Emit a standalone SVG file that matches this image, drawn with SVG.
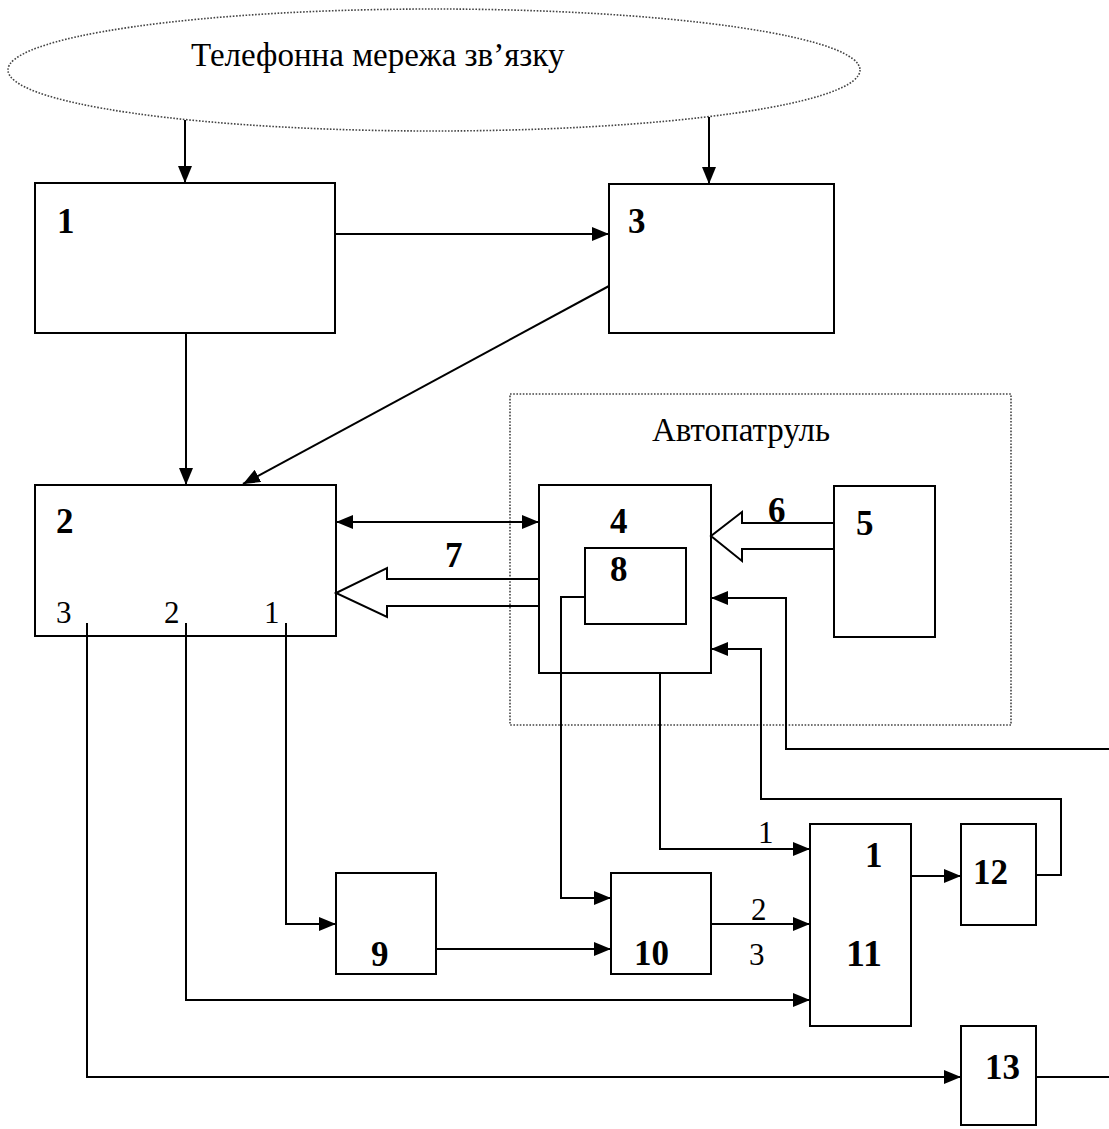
<svg xmlns="http://www.w3.org/2000/svg" width="1109" height="1129" viewBox="0 0 1109 1129">
<style>
.box{fill:none;stroke:#000;stroke-width:2}
.dot{fill:none;stroke:#444;stroke-width:1.6;stroke-dasharray:1.6 1.6}
.ln{fill:none;stroke:#000;stroke-width:2}
.arr{marker-end:url(#ah)}
.b{font-family:"Liberation Serif",serif;font-weight:bold;font-size:35px;fill:#000}
.r{font-family:"Liberation Serif",serif;font-size:31px;fill:#000}
.t{font-family:"Liberation Serif",serif;font-size:33px;fill:#000}
</style>
<defs>
<marker id="ah" markerUnits="userSpaceOnUse" markerWidth="17" markerHeight="14" refX="17" refY="7" orient="auto-start-reverse">
<path d="M0,0 L17,7 L0,14 Z" fill="#000"/>
</marker>
</defs>
<rect width="1109" height="1129" fill="#fff"/>

<g id="network">
<ellipse class="dot" cx="434" cy="70" rx="426" ry="61"/>
<text class="t" x="191" y="66">Телефонна мережа зв’язку</text>
</g>

<g id="autopatrol">
<rect class="dot" x="510" y="394" width="501" height="331"/>
<text class="t" x="652" y="441">Автопатруль</text>
</g>

<g id="node1"><rect class="box" x="35" y="183" width="300" height="150"/><text class="b" x="57" y="233">1</text></g>
<g id="node3"><rect class="box" x="609" y="184" width="225" height="149"/><text class="b" x="628" y="233">3</text></g>
<g id="node2"><rect class="box" x="35" y="485" width="301" height="151"/><text class="b" x="56" y="533">2</text>
<text class="r" x="56" y="623">3</text><text class="r" x="164" y="623">2</text><text class="r" x="264" y="623">1</text></g>
<g id="node4"><rect class="box" x="539" y="485" width="172" height="188"/><text class="b" x="610" y="533">4</text></g>
<g id="node8"><rect class="box" x="585" y="548" width="101" height="76"/><text class="b" x="610" y="581">8</text></g>
<g id="node5"><rect class="box" x="834" y="486" width="101" height="151"/><text class="b" x="856" y="535">5</text></g>
<g id="node9"><rect class="box" x="336" y="873" width="100" height="101"/><text class="b" x="371" y="966">9</text></g>
<g id="node10"><rect class="box" x="611" y="873" width="100" height="101"/><text class="b" x="634" y="965">10</text></g>
<g id="node11"><rect class="box" x="810" y="824" width="101" height="202"/><text class="b" x="865" y="867">1</text><text class="b" x="846" y="966" style="font-size:38px">11</text></g>
<g id="node12"><rect class="box" x="961" y="824" width="75" height="101"/><text class="b" x="973" y="884">12</text></g>
<g id="node13"><rect class="box" x="961" y="1026" width="75" height="99"/><text class="b" x="985" y="1079">13</text></g>

<g id="connectors">
<line class="ln arr" x1="185" y1="120" x2="185" y2="183"/>
<line class="ln arr" x1="709" y1="117" x2="709" y2="184"/>
<line class="ln arr" x1="335" y1="234" x2="609" y2="234"/>
<line class="ln arr" x1="186" y1="333" x2="186" y2="485"/>
<line class="ln arr" x1="609" y1="286" x2="243" y2="484"/>
<line class="ln arr" x1="336" y1="522" x2="539" y2="522" style="marker-start:url(#ah)"/>
<path class="ln" d="M539,579 H387 V568 L336,593 L387,617 V606 H539"/>
<text class="b" x="445" y="567">7</text>
<path class="ln" d="M834,523 H742 V512 L711,536 L742,561 V549 H834"/>
<text class="b" x="768" y="522">6</text>
<path class="ln arr" d="M585,597 H561 V898 H611"/>
<path class="ln arr" d="M660,673 V849 H810"/>
<text class="r" x="758" y="843">1</text>
<line class="ln arr" x1="911" y1="876" x2="961" y2="876"/>
<path class="ln arr" d="M1036,875 H1061 V799 H761 V649 H711"/>
<path class="ln arr" d="M1109,749 H786 V598 H711"/>
<path class="ln arr" d="M286,623 V924 H336"/>
<path class="ln arr" d="M186,623 V1000 H810"/>
<path class="ln arr" d="M87,623 V1077 H961"/>
<line class="ln arr" x1="436" y1="949" x2="611" y2="949"/>
<line class="ln arr" x1="711" y1="924" x2="810" y2="924"/>
<text class="r" x="751" y="920">2</text>
<text class="r" x="749" y="965">3</text>
<line class="ln" x1="1036" y1="1077" x2="1109" y2="1077"/>
</g>
</svg>
